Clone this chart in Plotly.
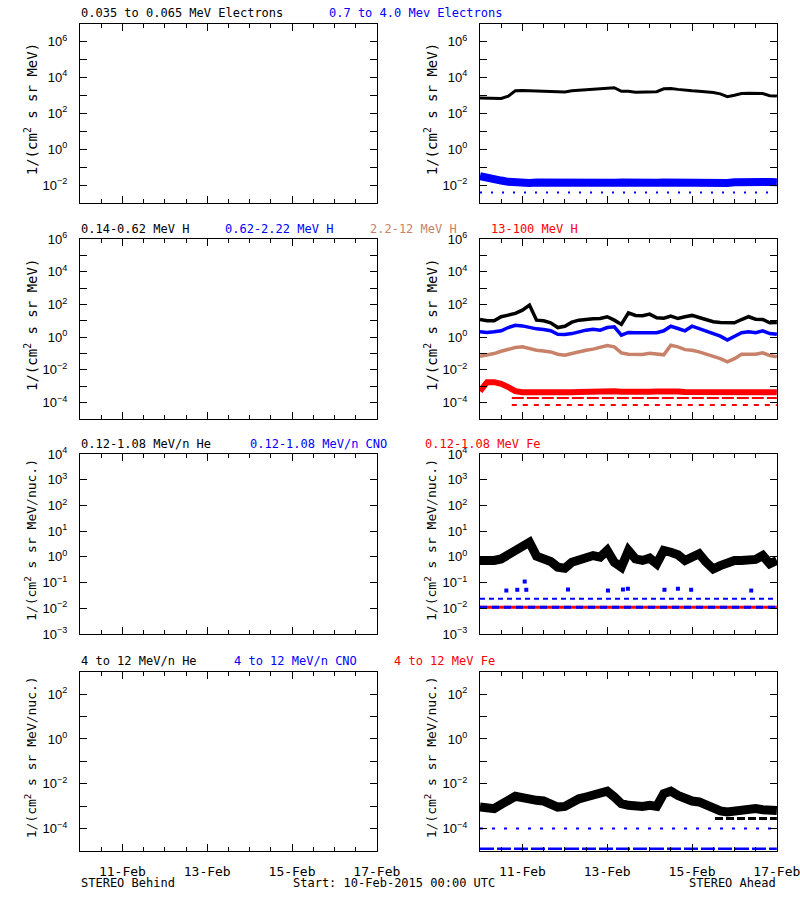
import numpy as np
import pandas as pd
import plotly.graph_objects as go

# ---------------- data ----------------
start = pd.Timestamp("2015-02-10 00:00")
hours = [0, 4, 8, 12, 16, 20, 24, 28, 32, 36, 40, 44, 48, 52, 56, 60, 64, 68, 72, 76, 80,
         84, 88, 92, 96, 100, 104, 108, 112, 116, 120, 124, 128, 132, 136, 140, 144, 148,
         152, 156, 160, 164, 168]
times = [start + pd.Timedelta(hours=h) for h in hours]

x_tick_labels = ["11-Feb", "13-Feb", "15-Feb", "17-Feb"]
x_tick_days = ["2015-02-11", "2015-02-13", "2015-02-15", "2015-02-17"]

# log10 of flux values
e_low_log = [2.85, 2.83, 2.80, 2.82, 2.95, 3.25, 3.27, 3.25, 3.24, 3.23, 3.22, 3.20, 3.19, 3.25,
             3.28, 3.29, 3.30, 3.33, 3.36, 3.42, 3.22, 3.22, 3.17, 3.17, 3.18, 3.20, 3.36, 3.38,
             3.33, 3.27, 3.25, 3.22, 3.20, 3.15, 3.08, 2.92, 3.00, 3.10, 3.12, 3.12, 3.10, 2.98, 2.96]
e_high_log = [-1.50, -1.55, -1.62, -1.75, -1.82, -1.86, -1.87, -1.88, -1.86, -1.87, -1.88, -1.88,
              -1.87, -1.86, -1.87, -1.88, -1.87, -1.86, -1.88, -1.87, -1.86, -1.88, -1.87, -1.86,
              -1.85, -1.87, -1.86, -1.87, -1.88, -1.87, -1.86, -1.87, -1.88, -1.86, -1.87, -1.88,
              -1.84, -1.82, -1.83, -1.82, -1.84, -1.83, -1.84]
e_high_floor_log = [-2.42, -2.42]

h1_log = [1.08, 1.00, 1.00, 1.25, 1.35, 1.45, 1.65, 1.96, 1.04, 1.00, 0.88, 0.59, 0.67, 0.92,
          1.04, 1.10, 1.12, 1.14, 1.25, 1.04, 0.78, 1.49, 1.33, 1.31, 1.41, 1.18, 1.16, 1.29,
          1.14, 1.25, 1.33, 1.20, 1.08, 0.94, 0.90, 0.88, 0.88, 1.08, 1.25, 1.10, 1.08, 0.88, 0.90]
h2_log = [0.33, 0.29, 0.33, 0.39, 0.59, 0.73, 0.69, 0.59, 0.51, 0.47, 0.39, 0.18, 0.16, 0.22,
          0.33, 0.43, 0.49, 0.43, 0.59, 0.63, 0.12, 0.29, 0.27, 0.27, 0.29, 0.27, 0.39, 0.67,
          0.53, 0.39, 0.67, 0.53, 0.39, 0.22, 0.06, -0.18, 0.02, 0.27, 0.33, 0.27, 0.39, 0.22, 0.18]
h3_log = [-1.16, -1.10, -1.00, -0.86, -0.76, -0.63, -0.59, -0.69, -0.80, -0.84, -0.90, -1.04,
          -1.10, -1.00, -0.88, -0.80, -0.73, -0.63, -0.51, -0.59, -0.96, -1.04, -1.04, -1.06,
          -0.98, -1.04, -1.08, -0.49, -0.59, -0.76, -0.80, -0.90, -1.04, -1.20, -1.31, -1.51,
          -1.31, -1.04, -1.04, -1.04, -0.96, -1.12, -1.20]
h4_log = [-3.30, -2.75, -2.75, -2.85, -3.05, -3.30, -3.36, -3.37, -3.36, -3.38, -3.36, -3.37,
          -3.35, -3.36, -3.35, -3.34, -3.33, -3.30, -3.26, -3.30, -3.34, -3.36, -3.35, -3.36,
          -3.34, -3.32, -3.30, -3.28, -3.32, -3.35, -3.36, -3.35, -3.37, -3.36, -3.36, -3.35,
          -3.37, -3.36, -3.35, -3.36, -3.37, -3.36, -3.37]
h4_floor_hours = [18, 168]
h4_floor1_log = [-3.72, -3.72]
h4_floor2_log = [-4.15, -4.15]

he_low_log = [-0.14, -0.18, -0.14, -0.08, 0.08, 0.29, 0.44, 0.57, 0.03, -0.08, -0.18, -0.40,
              -0.44, -0.21, -0.14, -0.01, 0.05, -0.01, 0.25, -0.21, -0.40, 0.25, -0.08, -0.14,
              -0.05, -0.27, 0.25, 0.18, 0.08, -0.14, -0.05, 0.12, -0.21, -0.47, -0.34, -0.21,
              -0.14, -0.14, -0.08, -0.10, 0.05, -0.27, -0.14]
cno_low_levels_log = [-1.63, -1.96]
fe_low_level_log = -1.96
cno_low_pts_hours = [14.9, 21.1, 25.3, 26.2, 49.8, 72.4, 80.9, 83.7, 104.4, 112.0, 119.5, 153.5]
cno_low_pts_log = [-1.31, -1.28, -0.96, -1.28, -1.27, -1.31, -1.27, -1.24, -1.28, -1.24, -1.28, -1.31]

he_high_log = [-3.04, -3.07, -3.11, -2.92, -2.71, -2.56, -2.62, -2.71, -2.74, -2.77, -2.86, -3.04,
               -3.01, -2.81, -2.67, -2.59, -2.52, -2.41, -2.33, -2.59, -2.89, -2.96, -3.01, -3.01,
               -2.96, -3.01, -2.44, -2.33, -2.52, -2.67, -2.77, -2.81, -2.96, -3.11, -3.21, -3.26,
               -3.21, -3.11, -3.16, -3.11, -3.16, -3.19, -3.19]
he_high_floor_hours = [133, 168]
he_high_floor_log = [-3.55, -3.55]
cno_high_levels_log = [-4.0, -4.9]

BLACK = "black"
BLUE = "#0000FF"
BROWN = "#C8826A"
RED = "#FF0000"
FONT = "DejaVu Sans Mono"
TICKFONT = "Liberation Sans"

# ---------------- figure ----------------
W, H = 800, 900
xl = [80 / W, 377 / W]
xr = [480 / W, 777 / W]
rows_px = [(23.5, 203), (239, 419), (454, 634), (671.7, 851)]
ydom = [[1 - b / H, 1 - a / H] for a, b in rows_px]
yranges = [[-3, 7], [-5, 6], [-3, 4], [-5, 3]]

fig = go.Figure()


def sup(k):
    return "10<sup>%s</sup>" % (str(k).replace("-", "\u2212"))


layout = dict(template="none", width=W, height=H, margin=dict(l=0, r=0, t=0, b=0, pad=0),
              autosize=False, paper_bgcolor="white", plot_bgcolor="white", showlegend=False,
              font=dict(family=FONT, size=12, color="black"))

xrange_ = [start, start + pd.Timedelta(days=7, minutes=5)]
minor_vals = [start + pd.Timedelta(hours=12 * i) for i in range(15)]

n = 0
for r in range(4):
    lo, hi = yranges[r]
    tv = [10.0 ** k for k in range(lo, hi + 1)]
    if r == 2:
        tt = [sup(k) for k in range(lo, hi + 1)]
    else:
        tt = [sup(k) if k % 2 == 0 else "" for k in range(lo, hi + 1)]
    for c in range(2):
        n += 1
        xa = "xaxis%d" % n if n > 1 else "xaxis"
        ya = "yaxis%d" % n if n > 1 else "yaxis"
        layout[xa] = dict(domain=xl if c == 0 else xr, anchor="y%d" % n, type="date",
                          range=xrange_, automargin=False, showline=True, linecolor="black",
                          linewidth=1, mirror="ticks", ticks="inside", ticklen=7,
                          tickcolor="black", tickwidth=1, ticklabeloverflow="allow",
                          tickmode="array", tickvals=x_tick_days, ticktext=x_tick_labels,
                          showticklabels=(r == 3), showgrid=False, zeroline=False,
                          ticklabelstandoff=8,
                          tickfont=dict(family=FONT, size=13, color="black"),
                          minor=dict(tickmode="array", tickvals=minor_vals, ticks="inside",
                                     ticklen=4, tickcolor="black", tickwidth=1, showgrid=False))
        layout[ya] = dict(domain=ydom[r], anchor="x%d" % n, type="log", range=[lo, hi],
                          automargin=False, showline=True, linecolor="black", linewidth=1,
                          mirror="ticks", ticks="inside", ticklen=7, tickcolor="black",
                          tickwidth=1, tickmode="array", ticklabeloverflow="allow",
                          tickvals=tv, ticktext=tt, showgrid=False, zeroline=False,
                          ticklabelstandoff=9,
                          tickfont=dict(family=TICKFONT, size=13, color="black"))
        # placeholder so every panel is drawn
        fig.add_trace(go.Scatter(x=[], y=[], xaxis="x%d" % n, yaxis="y%d" % n))

fig.update_layout(**layout)


def line(xs, ylog, color, width, panel, dash=None):
    fig.add_trace(go.Scatter(x=xs, y=10.0 ** np.array(ylog), mode="lines",
                             line=dict(color=color, width=width, dash=dash),
                             xaxis="x%d" % panel, yaxis="y%d" % panel, hoverinfo="skip"))


def hspan(hrs):
    return [start + pd.Timedelta(hours=h) for h in hrs]


# panel 2 (right, electrons)
line(hspan([0, 168]), e_high_floor_log, BLUE, 2, 2, dash="2px,9px")
line(times, e_high_log, BLUE, 8, 2)
line(times, e_low_log, BLACK, 3, 2)

# panel 4 (right, protons)
line(times, h1_log, BLACK, 3.5, 4)
line(times, h2_log, BLUE, 3.5, 4)
line(times, h3_log, BROWN, 3.5, 4)
line(hspan(h4_floor_hours), h4_floor1_log, RED, 2, 4, dash="12px,3px")
line(hspan(h4_floor_hours), h4_floor2_log, RED, 2, 4, dash="5px,6px")
line(times, h4_log, RED, 6, 4)

# panel 6 (right, low-energy ions)
line(hspan([0, 168]), [cno_low_levels_log[0]] * 2, BLUE, 2, 6, dash="5px,4px")
line(hspan([0, 168]), [fe_low_level_log] * 2, RED, 3, 6)
line(hspan([0, 168]), [cno_low_levels_log[1]] * 2, BLUE, 3, 6, dash="7px,5px")
fig.add_trace(go.Scatter(x=hspan(cno_low_pts_hours), y=10.0 ** np.array(cno_low_pts_log),
                         mode="markers", marker=dict(color=BLUE, size=4, symbol="square"),
                         xaxis="x6", yaxis="y6", hoverinfo="skip"))
line(times, he_low_log, BLACK, 9, 6)

# panel 8 (right, high-energy ions)
line(hspan([0, 168]), [cno_high_levels_log[0]] * 2, BLUE, 2, 8, dash="3px,9px")
line(hspan([0, 168]), [cno_high_levels_log[1]] * 2, BLUE, 2.5, 8, dash="14px,3px")
line(hspan(he_high_floor_hours), he_high_floor_log, BLACK, 3, 8, dash="8px,3px")
line(times, he_high_log, BLACK, 9, 8)

# ---------------- text ----------------
ann = []


def text(s, xpx, ypx, color="black", xanchor="left", angle=0, size=12):
    ann.append(dict(text=s, x=xpx / W, y=1 - ypx / H, xref="paper", yref="paper",
                    xanchor=xanchor, yanchor="middle", showarrow=False, textangle=angle,
                    borderpad=0, font=dict(family=FONT, size=size, color=color)))


text("0.035 to 0.065 MeV Electrons", 80, 13)
text("0.7 to 4.0 Mev Electrons", 328, 13, BLUE)
text("0.14-0.62 MeV H", 80, 229)
text("0.62-2.22 MeV H", 224, 229, BLUE)
text("2.2-12 MeV H", 369, 229, BROWN)
text("13-100 MeV H", 490, 229, RED)
text("0.12-1.08 MeV/n He", 80, 444)
text("0.12-1.08 MeV/n CNO", 249, 444, BLUE)
text("0.12-1.08 MeV Fe", 424, 444, RED)
text("4 to 12 MeV/n He", 80, 661)
text("4 to 12 MeV/n CNO", 233, 661, BLUE)
text("4 to 12 MeV Fe", 393, 661, RED)

ytitles = ["1/(cm<sup>2</sup> s sr MeV)", "1/(cm<sup>2</sup> s sr MeV)",
           "1/(cm<sup>2</sup> s sr MeV/nuc.)", "1/(cm<sup>2</sup> s sr MeV/nuc.)"]
for r, (a, b) in enumerate(rows_px):
    for xp in (31, 431):
        text(ytitles[r], xp, (a + b) / 2 - 4, xanchor="center", angle=-90,
             size=14 if r < 2 else 13)

text("STEREO Behind", 80, 883)
text("Start: 10-Feb-2015 00:00 UTC", 292, 883)
text("STEREO Ahead", 777, 883, xanchor="right")

fig.update_layout(annotations=ann)
fig.write_html("out.html")
